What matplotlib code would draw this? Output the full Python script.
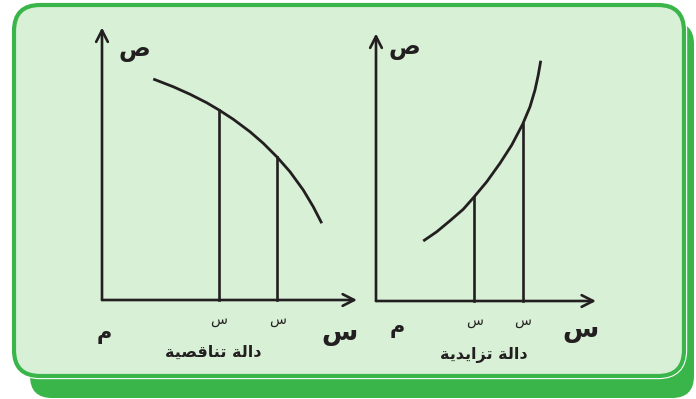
import numpy as np
import matplotlib.pyplot as plt
from matplotlib.patches import FancyBboxPatch

# الدالة المتناقصة: نقاط المنحنى والقيمتان المعلمتان على محور س
dec_x = [2.05, 2.85, 3.52, 4.19, 4.68, 5.25, 5.92, 6.45, 7.01, 7.52, 8.05, 8.45, 8.79]
dec_y = [8.84, 8.53, 8.23, 7.89, 7.6, 7.23, 6.73, 6.27, 5.71, 5.13, 4.4, 3.73, 3.07]
dec_marks = [4.68, 7.01]

# الدالة المتزايدة
inc_x = [1.89, 2.43, 2.96, 3.49, 3.93, 4.43, 4.96, 5.43, 5.87, 6.16, 6.36, 6.49, 6.59]
inc_y = [2.4, 2.77, 3.21, 3.67, 4.17, 4.77, 5.51, 6.24, 7.08, 7.77, 8.44, 9.04, 9.61]
inc_marks = [3.93, 5.87]

# matplotlib لا يشكّل الحروف العربية، لذلك نكتب أشكال العرض بالترتيب المرئي
dec_title = [0xFEA9, 0xFE8D, 0xFEDF, 0xFE94, 0x20,
             0xFE97, 0xFEE8, 0xFE8E, 0xFED7, 0xFEBC, 0xFEF4, 0xFE94]
inc_title = [0xFEA9, 0xFE8D, 0xFEDF, 0xFE94, 0x20,
             0xFE97, 0xFEB0, 0xFE8D, 0xFEF3, 0xFEAA, 0xFEF3, 0xFE94]


def visual(codes):
    return ''.join(chr(c) for c in reversed(codes))


ink = '#231f20'
green = '#39b54a'
fill = '#d8f0d6'
W, H = 696, 399

fig = plt.figure(figsize=(W / 100, H / 100), dpi=100)
fig.patch.set_facecolor('white')

# الإطار والظل
bg = fig.add_axes([0, 0, 1, 1])
bg.set_xlim(0, W)
bg.set_ylim(H, 0)
bg.axis('off')
bg.add_patch(FancyBboxPatch((30, 22), 664, 376, boxstyle='round,pad=0,rounding_size=22',
                            fc=green, ec='none'))
bg.add_patch(FancyBboxPatch((14, 5), 670, 371, boxstyle='round,pad=0,rounding_size=26',
                            fc='none', ec='white', lw=4.6))
bg.add_patch(FancyBboxPatch((14, 5), 670, 371, boxstyle='round,pad=0,rounding_size=26',
                            fc=fill, ec=green, lw=3))

scale = 25  # بكسل لكل وحدة


def panel(ox, oy, xs, ys, marks, xmax, ymax, title, lab):
    x0, x1, y0, y1 = -1.5, 11, -3, 11.5
    left = (ox + x0 * scale) / W
    bottom = (H - (oy - y0 * scale)) / H
    ax = fig.add_axes([left, bottom, (x1 - x0) * scale / W, (y1 - y0) * scale / H])
    ax.set_xlim(x0, x1)
    ax.set_ylim(y0, y1)
    ax.axis('off')
    ax.patch.set_alpha(0)

    arrow = dict(arrowstyle='->,head_length=0.55,head_width=0.28', lw=1.9, color=ink,
                 shrinkA=0, shrinkB=0, mutation_scale=15)
    ax.annotate('', xy=(xmax, 0), xytext=(0, 0), arrowprops=arrow)
    ax.annotate('', xy=(0, ymax), xytext=(0, 0), arrowprops=arrow)

    ax.plot(xs, ys, color=ink, lw=2, solid_capstyle='butt', solid_joinstyle='round')
    for m in marks:
        ax.plot([m, m], [0, np.interp(m, xs, ys)], color=ink, lw=1.9)
        ax.text(m, -0.8, 'س', fontsize=10, ha='center', va='center',
                family='DejaVu Sans', color=ink)

    ax.text(lab['sad'][0], lab['sad'][1], 'ص', fontsize=17, fontweight='bold',
            ha='center', va='center', family='DejaVu Sans', color=ink)
    ax.text(lab['mim'][0], lab['mim'][1], 'م', fontsize=15, fontweight='bold',
            ha='center', va='center', family='DejaVu Sans', color=ink)
    ax.text(lab['sin'][0], lab['sin'][1], 'س', fontsize=19, fontweight='bold',
            ha='center', va='center', family='DejaVu Sans', color=ink)
    ax.text(lab['title'][0], lab['title'][1], visual(title), fontsize=11.5,
            fontweight='bold', ha='center', va='center', family='DejaVu Sans', color=ink)


panel(102, 300, dec_x, dec_y, dec_marks, 10.2, 10.9, dec_title,
      {'sad': (1.3, 10.0), 'mim': (0.1, -1.35), 'sin': (9.5, -1.3), 'title': (4.45, -2.1)})
panel(376, 301, inc_x, inc_y, inc_marks, 8.8, 10.7, inc_title,
      {'sad': (1.15, 10.1), 'mim': (0.85, -1.1), 'sin': (8.2, -1.15), 'title': (4.3, -2.15)})

fig.savefig('out.png', dpi=100)
